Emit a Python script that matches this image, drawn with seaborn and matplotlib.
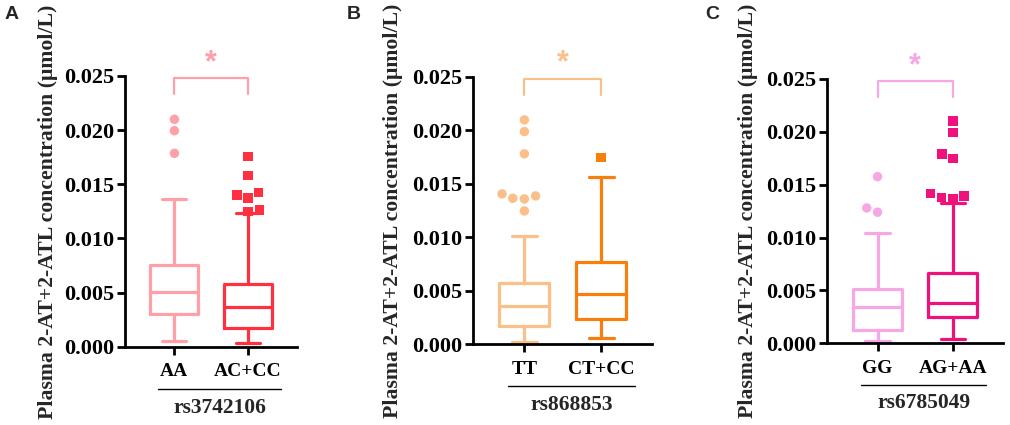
import numpy as np
import pandas as pd
import seaborn as sns
import matplotlib.pyplot as plt

# box statistics (umol/L)
groups_a = ["AA", "AC+CC"]
med_a = [0.00502, 0.00363]
q1_a = [0.00302, 0.00169]
q3_a = [0.00754, 0.00579]
lo_a = [0.00052, 0.00030]
hi_a = [0.01364, 0.01237]
out_a = [[0.02100, 0.01995, 0.01786],
         [0.01755, 0.01579, 0.01422, 0.01401, 0.01373, 0.01262, 0.01247]]

groups_b = ["TT", "CT+CC"]
med_b = [0.00358, 0.00470]
q1_b = [0.00174, 0.00234]
q3_b = [0.00576, 0.00766]
lo_b = [0.00025, 0.00062]
hi_b = [0.01012, 0.01566]
out_b = [[0.02095, 0.01986, 0.01778, 0.01404, 0.01385, 0.01363, 0.01357, 0.01245],
         [0.01743]]

groups_c = ["GG", "AG+AA"]
med_c = [0.00347, 0.00385]
q1_c = [0.00126, 0.00252]
q3_c = [0.00514, 0.00662]
lo_c = [0.00025, 0.00038]
hi_c = [0.01047, 0.01324]
out_c = [[0.01576, 0.01280, 0.01240],
         [0.02103, 0.01996, 0.01790, 0.01750, 0.01419, 0.01393, 0.01377, 0.01365]]

snps = ["rs3742106", "rs868853", "rs6785049"]
letters = ["A", "B", "C"]
colors = [["#FFA0A8", "#FF3040"],
          ["#FBC08A", "#F77F0E"],
          ["#F6A8E6", "#F0127C"]]
markers = ["o", "s"]

sns.set_theme(style="ticks")
plt.rcParams["font.family"] = ["Liberation Serif", "DejaVu Serif"]
plt.rcParams["font.weight"] = "bold"

fig = plt.figure(figsize=(10.1, 4.25), dpi=100)
positions = [[0.1238, 0.1842, 0.170, 0.637],
             [0.4683, 0.1900, 0.177, 0.630],
             [0.8188, 0.1922, 0.174, 0.622]]
letter_x = [0.004, 0.343, 0.698]

panels = [
    (groups_a, med_a, q1_a, q3_a, lo_a, hi_a, out_a),
    (groups_b, med_b, q1_b, q3_b, lo_b, hi_b, out_b),
    (groups_c, med_c, q1_c, q3_c, lo_c, hi_c, out_c),
]

for k, (groups, med, q1, q3, lo, hi, outs) in enumerate(panels):
    ax = fig.add_axes(positions[k])
    pal = colors[k]

    # outliers spread like GraphPad with a swarm
    # (invisible edge just widens the spacing between points a bit)
    for i, g in enumerate(groups):
        df = pd.DataFrame({"group": [g] * len(outs[i]), "value": outs[i]})
        sns.swarmplot(data=df, x="group", y="value", order=groups,
                      color=pal[i], marker=markers[i], size=6.8,
                      linewidth=1.2, edgecolor="none", ax=ax, zorder=3)

    for i in range(len(groups)):
        stats = [{"med": med[i], "q1": q1[i], "q3": q3[i],
                  "whislo": lo[i], "whishi": hi[i], "fliers": []}]
        lp = {"color": pal[i], "linewidth": 2.3}
        ax.bxp(stats, positions=[i], widths=0.65, showfliers=False,
               boxprops=lp, whiskerprops=lp, capprops=lp, medianprops=lp,
               manage_ticks=False)

    ax.set_xlim(-0.67, 1.66)
    ax.set_ylim(0, 0.025)
    ax.set_yticks(np.arange(0, 0.0251, 0.005))
    ax.set_yticklabels([f"{v:.3f}" for v in np.arange(0, 0.0251, 0.005)],
                       fontsize=16, fontweight="bold")
    ax.set_xticks([0, 1])
    ax.set_xticklabels(groups, fontsize=14, fontweight="bold")
    ax.set_xlabel("")
    ax.set_ylabel("Plasma 2-AT+2-ATL concentration (\u03bcmol/L)",
                  fontsize=15.7, fontweight="bold")
    ax.yaxis.set_label_coords(-0.39, 0.5)
    sns.despine(ax=ax)
    for side in ["left", "bottom"]:
        ax.spines[side].set_linewidth(2.0)
        ax.spines[side].set_color("black")
    ax.tick_params(axis="both", width=2.0, length=6, colors="black")
    ax.tick_params(axis="y", pad=2)
    ax.tick_params(axis="x", pad=6)

    # significance bracket
    light = pal[0]
    ax.plot([0, 0, 1, 1], [0.0233, 0.0248, 0.0248, 0.0233], color=light,
            lw=1.6, clip_on=False)
    ax.text(0.5, 0.0262, "*", color=light, fontsize=22, ha="center",
            va="center", family="Liberation Sans")

    # snp name with underline
    tr = ax.get_xaxis_transform()
    ax.plot([-0.22, 1.44], [-0.156, -0.156], color="black", lw=1.0,
            transform=tr, clip_on=False)
    ax.text(0.61, -0.226, snps[k], transform=tr, fontsize=15.5,
            fontweight="bold", ha="center", va="center")

    fig.text(letter_x[k], 0.985, letters[k], fontsize=14, fontweight="bold",
             family="Liberation Sans", va="top")

fig.savefig("out.png", dpi=100)
